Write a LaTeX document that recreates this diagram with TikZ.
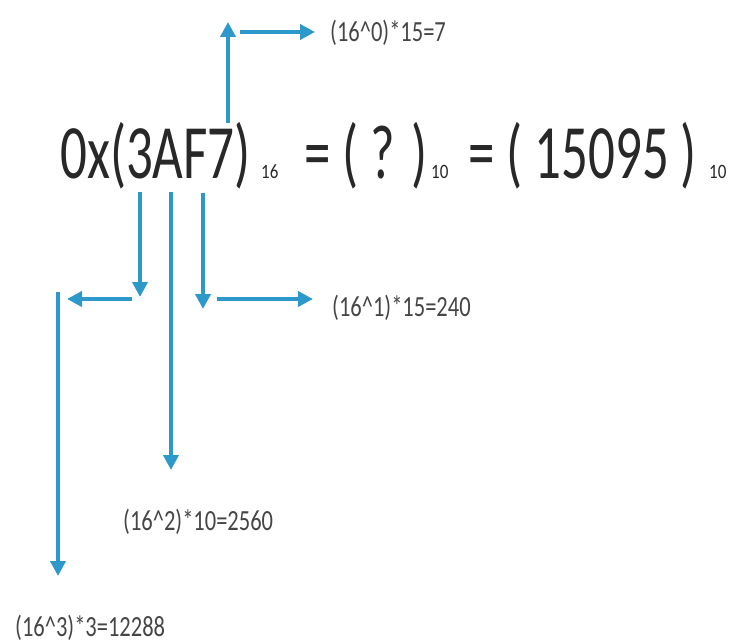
\documentclass[tikz,border=0pt]{standalone}
\usepackage{fontspec}
\setmainfont{Carlito}
\usetikzlibrary{arrows.meta}
\definecolor{arrowblue}{RGB}{45,152,202}
\definecolor{txtgray}{RGB}{40,40,40}
\definecolor{lblgray}{RGB}{70,70,70}
\begin{document}
\begin{tikzpicture}[x=1pt,y=-1pt,
  conn/.style={draw=arrowblue, line width=4pt, -{Triangle[length=15pt,width=15pt]}},
  bigtxt/.style={inner sep=0pt, anchor=base west, text=txtgray, font=\fontsize{53}{60}\selectfont},
  subtxt/.style={inner sep=0pt, anchor=base west, text=txtgray, font=\fontsize{17}{20}\selectfont},
  lbl/.style={inner sep=0pt, anchor=west, text=lblgray, font=\fontsize{22.5}{26}\selectfont}]
\useasboundingbox (0,0) rectangle (735,644);
% main line
\node[bigtxt] (hex) at (60,179) {\scalebox{1}[1.45]{0x(3AF7)}};
\node[subtxt] (sub16) at (261,179) {\scalebox{1}[1.2]{16}};
\node[bigtxt] (eq1) at (304,179) {\scalebox{1}[1.45]{= ( ? )}};
\node[subtxt] (sub10a) at (431,179) {\scalebox{1}[1.2]{10}};
\node[bigtxt] (eq2) at (468,179) {\scalebox{1}[1.45]{= ( 15095 )}};
\node[subtxt] (sub10b) at (709,179) {\scalebox{1}[1.2]{10}};
% labels
\node[lbl] (l0) at (330,33) {\scalebox{1}[1.3]{(16\^{}0)*15=7}};
\node[lbl] (l1) at (332,308) {\scalebox{1}[1.3]{(16\^{}1)*15=240}};
\node[lbl] (l2) at (123,522) {\scalebox{1}[1.3]{(16\^{}2)*10=2560}};
\node[lbl] (l3) at (15,628) {\scalebox{1}[1.3]{(16\^{}3)*3=12288}};
% digit 7
\coordinate (s7) at (228,123);
\coordinate (t7) at (228,22);
\coordinate (a0) at (240,32);
\draw[conn] (s7) -- (t7);
\draw[conn, shorten >=15pt] (a0) -- (a0 -| l0.west);
% digit F
\coordinate (sF) at (203,193);
\coordinate (tF) at (203,309);
\coordinate (a1) at (217,299);
\coordinate (b1) at (313,299);
\draw[conn] (sF) -- (tF);
\draw[conn] (a1) -- (b1);
% digit A
\coordinate (sA) at (171,192);
\coordinate (tA) at (171,470);
\draw[conn] (sA) -- (tA);
% digit 3
\coordinate (s3) at (140,192);
\coordinate (t3) at (140,297);
\coordinate (a3) at (132,299);
\coordinate (b3) at (67,299);
\coordinate (c3) at (58,292);
\coordinate (d3) at (58,576);
\draw[conn] (s3) -- (t3);
\draw[conn] (a3) -- (b3);
\draw[conn] (c3) -- (d3);
\end{tikzpicture}
\end{document}
